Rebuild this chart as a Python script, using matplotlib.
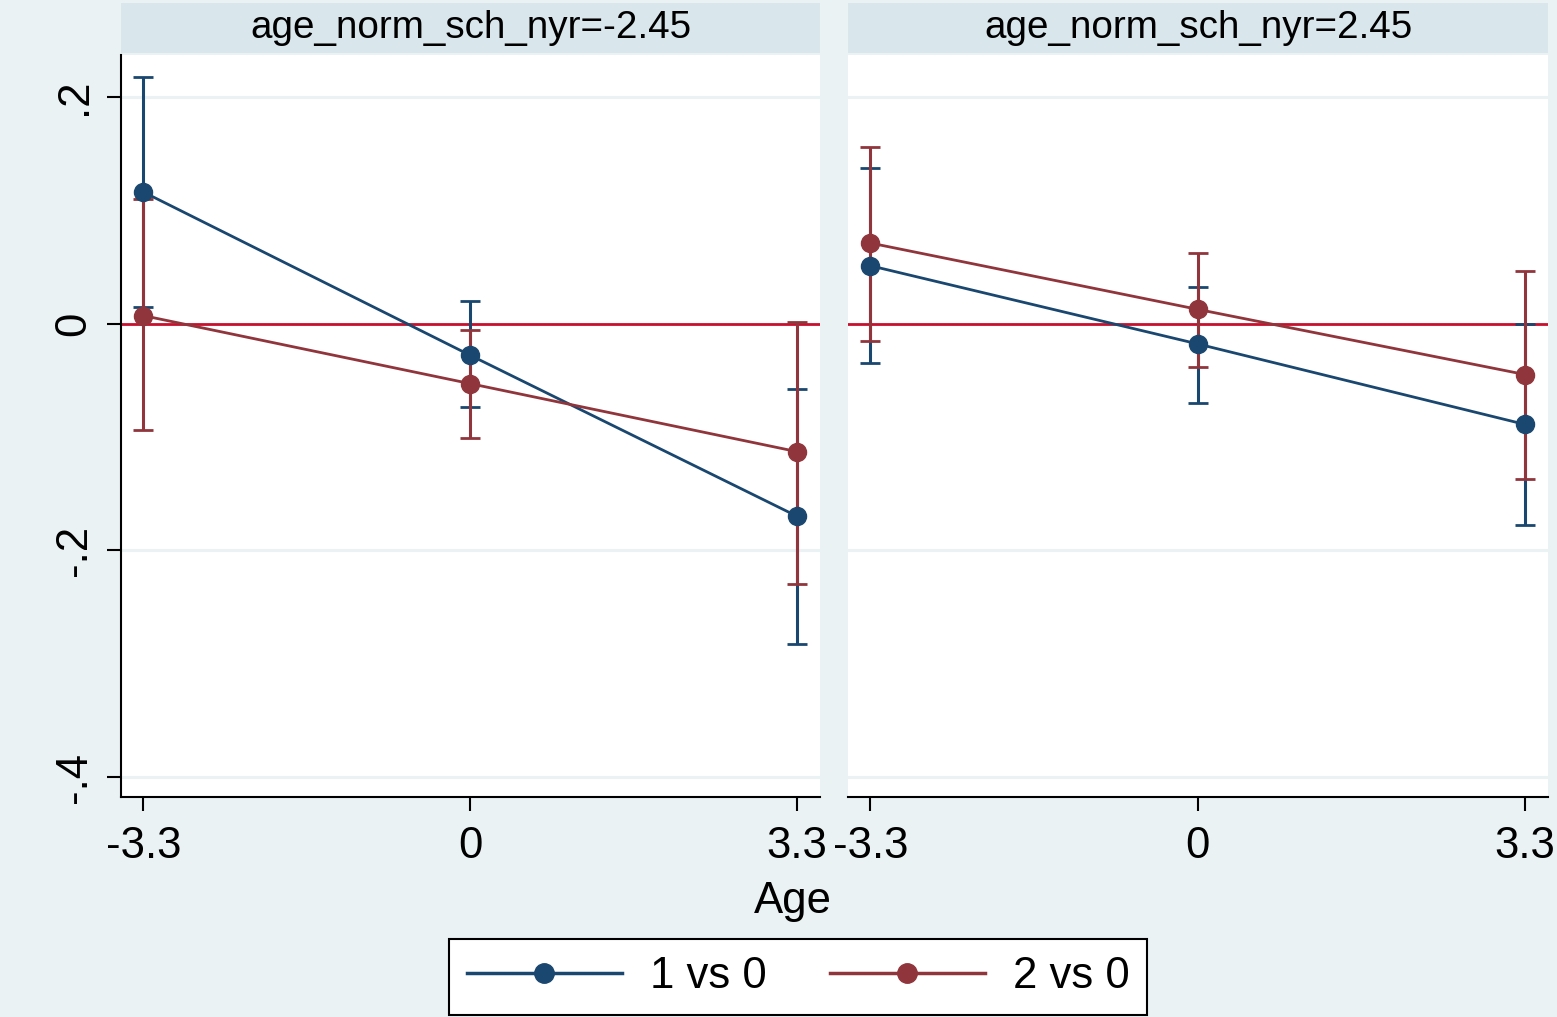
import matplotlib
matplotlib.use("Agg")
import matplotlib.pyplot as plt
from matplotlib.lines import Line2D

plt.rcParams['font.family'] = ['Liberation Sans', 'DejaVu Sans']

# ---- data ----
ages = [-3.3, 0, 3.3]
age_labels = ["-3.3", "0", "3.3"]
panel_titles = ["age_norm_sch_nyr=-2.45", "age_norm_sch_nyr=2.45"]
series_names = ["1 vs 0", "2 vs 0"]

# left panel (age_norm_sch_nyr=-2.45)
L_s1 = [0.116, -0.028, -0.170]
L_s1_lo = [0.015, -0.074, -0.283]
L_s1_hi = [0.217, 0.020, -0.0575]
L_s2 = [0.007, -0.053, -0.113]
L_s2_lo = [-0.094, -0.101, -0.230]
L_s2_hi = [0.110, -0.006, 0.001]

# right panel (age_norm_sch_nyr=2.45)
R_s1 = [0.051, -0.018, -0.089]
R_s1_lo = [-0.035, -0.070, -0.178]
R_s1_hi = [0.137, 0.032, 0.000]
R_s2 = [0.071, 0.0125, -0.045]
R_s2_lo = [-0.015, -0.038, -0.137]
R_s2_hi = [0.156, 0.062, 0.046]

y_ticks = [-0.4, -0.2, 0, 0.2]
y_tick_labels = ["-.4", "-.2", "0", ".2"]

# ---- style ----
W, H = 1557, 1017
BG = "#EAF2F3"
STRIP = "#D9E6EC"
C1 = "#1A476F"
C2 = "#90353B"
REF = "#C8102E"
FS = 31.5

fig = plt.figure(figsize=(W / 100, H / 100), dpi=100, facecolor=BG)

def px(x0, y0, x1, y1):
    return [x0 / W, (H - y1) / H, (x1 - x0) / W, (y1 - y0) / H]

panels = [
    (121, 820, panel_titles[0], (L_s1, L_s1_lo, L_s1_hi), (L_s2, L_s2_lo, L_s2_hi), True),
    (848, 1548, panel_titles[1], (R_s1, R_s1_lo, R_s1_hi), (R_s2, R_s2_lo, R_s2_hi), False),
]

for x0, x1, title, s1, s2, first in panels:
    ax = fig.add_axes(px(x0, 55, x1, 797))
    ax.set_facecolor("white")
    ax.set_xlim(-3.525, 3.53)
    ax.set_ylim(-0.4175, 0.2368)
    for yt in y_ticks:
        ax.axhline(yt, color=BG, lw=2.2, zorder=0)
    ax.axhline(0, color=REF, lw=2.0, zorder=1)
    for (vals, lo, hi), c in ((s1, C1), (s2, C2)):
        yerr = [[v - l for v, l in zip(vals, lo)], [h - v for v, h in zip(vals, hi)]]
        ax.errorbar(ages, vals, yerr=yerr, color=c, lw=2.0, marker='o', ms=13,
                    capsize=7.5, capthick=2.0, elinewidth=2.2, zorder=3)
    for sp in ("top", "right"):
        ax.spines[sp].set_visible(False)
    ax.spines["bottom"].set_linewidth(1.5)
    ax.set_xticks(ages)
    ax.set_xticklabels(age_labels, fontsize=FS)
    ax.tick_params(axis='x', length=10, width=1.5, pad=11)
    if first:
        ax.spines["left"].set_linewidth(1.5)
        ax.set_yticks(y_ticks)
        ax.set_yticklabels(y_tick_labels, fontsize=FS, rotation=90, va='center')
        ax.tick_params(axis='y', length=10, width=1.5, pad=9)
    else:
        ax.spines["left"].set_visible(False)
        ax.set_yticks(y_ticks)
        ax.tick_params(axis='y', length=0, labelleft=False)
    # strip
    sax = fig.add_axes(px(x0, 3, x1, 53))
    sax.set_facecolor(STRIP)
    sax.set_xticks([]); sax.set_yticks([])
    for sp in sax.spines.values():
        sp.set_visible(False)
    sax.text(0.5, 0.5, title, ha='center', va='center', fontsize=27.8, transform=sax.transAxes)

fig.text(793 / W, (H - 902) / H, "Age", ha='center', va='center', fontsize=FS)

handles = [Line2D([], [], color=C1, lw=2.5, marker='o', ms=14),
           Line2D([], [], color=C2, lw=2.5, marker='o', ms=14)]
leg = fig.legend(handles, series_names, loc='center', bbox_to_anchor=(798 / W, (H - 977) / H),
                 ncol=2, fontsize=FS, frameon=True, fancybox=False, edgecolor='black',
                 facecolor='white', framealpha=1,
                 handlelength=3.55, handletextpad=0.63, columnspacing=1.45, borderpad=0.4)
leg.get_frame().set_linewidth(1.5)

fig.savefig("out.png", dpi=100, facecolor=BG)
